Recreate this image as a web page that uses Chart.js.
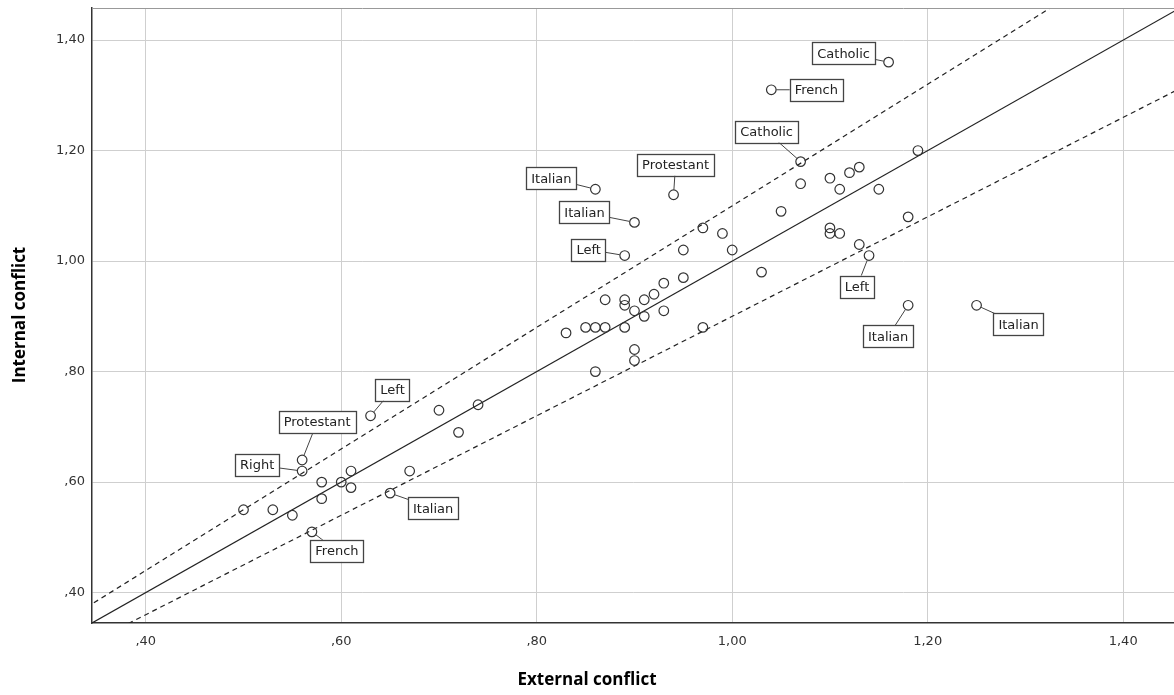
<!DOCTYPE html>
<html><head><meta charset="utf-8">
<script src="https://cdn.jsdelivr.net/npm/chart.js@4.4.1/dist/chart.umd.min.js"></script>
<style>html,body{margin:0;padding:0;background:#fff;} #wrap{width:1174px;height:695px;position:relative;}</style>
</head><body><div id="wrap"><canvas id="c"></canvas></div>
<script>
// ---- data ----
const externalConflict = [
  1.16, 1.04, 1.07, 0.86, 0.94, 0.90, 0.89, 1.14, 1.18, 1.25, 0.63, 0.56, 0.56, 0.65, 0.57,
  1.19, 1.07, 1.10, 1.12, 1.13, 1.11, 1.15, 1.05, 1.18, 1.10, 1.10, 1.11, 1.13, 1.03,
  0.97, 0.99, 0.95, 1.00, 0.95, 0.93, 0.92, 0.91, 0.89, 0.89, 0.87, 0.90, 0.91, 0.93,
  0.83, 0.85, 0.86, 0.87, 0.89, 0.97, 0.90, 0.90, 0.86,
  0.70, 0.74, 0.72, 0.61, 0.67, 0.58, 0.60, 0.61, 0.58, 0.50, 0.53, 0.55
];
const internalConflict = [
  1.36, 1.31, 1.18, 1.13, 1.12, 1.07, 1.01, 1.01, 0.92, 0.92, 0.72, 0.64, 0.62, 0.58, 0.51,
  1.20, 1.14, 1.15, 1.16, 1.17, 1.13, 1.13, 1.09, 1.08, 1.06, 1.05, 1.05, 1.03, 0.98,
  1.06, 1.05, 1.02, 1.02, 0.97, 0.96, 0.94, 0.93, 0.93, 0.92, 0.93, 0.91, 0.90, 0.91,
  0.87, 0.88, 0.88, 0.88, 0.88, 0.88, 0.84, 0.82, 0.80,
  0.73, 0.74, 0.69, 0.62, 0.62, 0.60, 0.60, 0.59, 0.57, 0.55, 0.55, 0.54
];
const pointLabels = [
  "Catholic", "French", "Catholic", "Italian", "Protestant", "Italian", "Left", "Left",
  "Italian", "Italian", "Left", "Protestant", "Right", "Italian", "French"
];
const tickValues = [0.40, 0.60, 0.80, 1.00, 1.20, 1.40];
const refSlopes = [1.0, 1.1, 0.9];          // y = k * x reference lines
const refSpanX = [0.30, 1.50];
const axisMin = 0.345, xAxisMax = 1.452, yAxisMax = 1.458;

// ---- layout (label box offsets in px from point) ----
const labelOffsets = [
  [-45,-9], [45,0], [-34,-30], [-44,-11], [2,-30], [-50,-10], [-36,-6], [-12,31],
  [-20,31], [42,19], [22,-26], [15,-38], [-45,-6], [43,15], [25,19]
];

const fmt = v => { let s = Number(v).toFixed(2).replace('.', ','); if (s.startsWith('0')) s = s.slice(1); return s; };

const scatterData = externalConflict.map((x, i) => ({x: x, y: internalConflict[i]}));
const lineSets = refSlopes.map(k => ({
  type: 'line',
  data: refSpanX.map(x => ({x: x, y: k * x})),
  borderColor: '#222',
  borderWidth: 1.2,
  borderDash: k === 1 ? [] : [5, 4],
  pointRadius: 0,
  fill: false,
  tension: 0
}));

const labelPlugin = {
  id: 'labels',
  afterDatasetsDraw(chart) {
    const ctx = chart.ctx;
    const meta = chart.getDatasetMeta(0);
    ctx.save();
    ctx.font = '13px "DejaVu Sans"';
    pointLabels.forEach((lab, i) => {
      if (!lab) return;
      const p = meta.data[i];
      const [dx, dy] = labelOffsets[i];
      const cx = p.x + dx, cy = p.y + dy;
      const w = ctx.measureText(lab).width + 10, h = 22;
      const vx = cx - p.x, vy = cy - p.y, len = Math.hypot(vx, vy);
      ctx.strokeStyle = '#444'; ctx.lineWidth = 1;
      ctx.beginPath();
      ctx.moveTo(p.x + vx / len * 5, p.y + vy / len * 5);
      ctx.lineTo(cx, cy);
      ctx.stroke();
      ctx.fillStyle = '#fff';
      ctx.fillRect(cx - w / 2, cy - h / 2, w, h);
      ctx.strokeStyle = '#444'; ctx.lineWidth = 1.3;
      ctx.strokeRect(Math.round(cx - w / 2) + 0.5, Math.round(cy - h / 2) + 0.5, Math.round(w), h);
      ctx.fillStyle = '#222';
      ctx.textAlign = 'center'; ctx.textBaseline = 'middle';
      ctx.fillText(lab, cx, cy + 1);
    });
    ctx.restore();
  }
};

const framePlugin = {
  id: 'frame',
  afterDraw(chart) {
    const ctx = chart.ctx, a = chart.chartArea;
    ctx.save();
    ctx.strokeStyle = '#999'; ctx.lineWidth = 1;
    ctx.beginPath(); ctx.moveTo(a.left, a.top + 0.5); ctx.lineTo(a.right, a.top + 0.5); ctx.stroke();
    ctx.fillStyle = '#000';
    ctx.font = 'bold 17px "Open Sans"';
    ctx.textAlign = 'center'; ctx.textBaseline = 'middle';
    ctx.fillText('External conflict', 587, 680);
    ctx.translate(20, 315);
    ctx.rotate(-Math.PI / 2);
    ctx.fillText('Internal conflict', 0, 0);
    ctx.restore();
  }
};

new Chart(document.getElementById('c'), {
  type: 'scatter',
  data: {
    datasets: [{
      data: scatterData,
      pointRadius: 4.8,
      pointHoverRadius: 4.8,
      borderColor: '#333',
      backgroundColor: 'rgba(0,0,0,0)',
      borderWidth: 1.2,
      showLine: false
    }].concat(lineSets)
  },
  options: {
    responsive: true,
    maintainAspectRatio: false,
    animation: false,
    layout: {autoPadding: false, padding: {top: 8, right: 0, left: 0, bottom: 0}},
    plugins: {legend: {display: false}, tooltip: {enabled: false}},
    scales: {
      x: {
        type: 'linear', min: axisMin, max: xAxisMax,
        afterBuildTicks: s => { s.ticks = tickValues.map(v => ({value: v})); },
        afterFit: s => { s.height = 72; s.paddingLeft = 0; s.paddingRight = 0; },
        ticks: {callback: fmt, color: '#333', font: {family: 'DejaVu Sans', size: 13}, padding: 11, autoSkip: false, maxRotation: 0},
        grid: {color: '#cfcfcf', lineWidth: 1, drawTicks: false},
        border: {display: true, color: '#333', width: 1.5}
      },
      y: {
        type: 'linear', min: axisMin, max: yAxisMax,
        afterBuildTicks: s => { s.ticks = tickValues.map(v => ({value: v})); },
        afterFit: s => { s.width = 92; s.paddingTop = 0; s.paddingBottom = 0; },
        ticks: {callback: fmt, color: '#333', font: {family: 'DejaVu Sans', size: 13}, padding: 7, autoSkip: false},
        grid: {color: '#cfcfcf', lineWidth: 1, drawTicks: false},
        border: {display: true, color: '#333', width: 1.5}
      }
    }
  },
  plugins: [labelPlugin, framePlugin]
});
</script></body></html>
